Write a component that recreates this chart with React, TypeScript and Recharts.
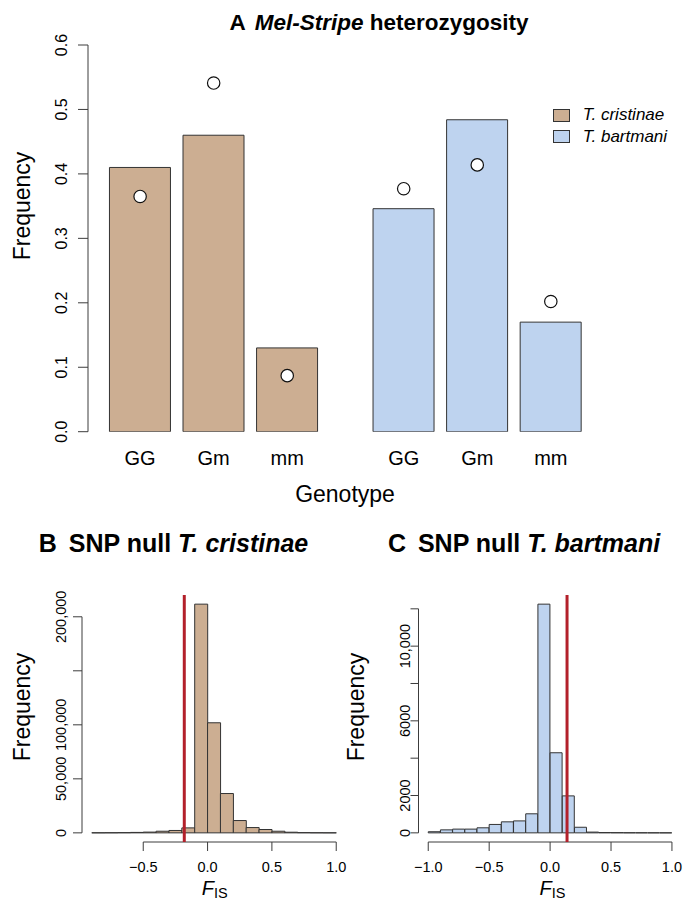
import React from 'react';
import {
  ComposedChart, Bar, Line, XAxis, YAxis, Legend, ReferenceLine,
} from 'recharts';

// ---- panel A: Mel-Stripe genotype frequencies ----
const genotypes = ['GG', 'Gm', 'mm'];
const cristinaeObs = [0.41, 0.46, 0.13];
const bartmaniObs = [0.346, 0.484, 0.17];
const cristinaeExp = [0.365, 0.541, 0.087];
const bartmaniExp = [0.377, 0.414, 0.202];
const freqTicks = [0, 0.1, 0.2, 0.3, 0.4, 0.5, 0.6];
const legendOrder = ['cristinae', 'bartmani'];

// ---- panels B/C: SNP null FIS histograms (bin width 0.1) ----
const cristinaeBinStart = -0.9;
const cristinaeCounts = [
  50, 100, 200, 400, 700, 1500, 2200, 4600, 211700, 101900,
  36400, 11400, 4900, 3100, 1500, 600, 200, 80, 30,
];
const cristinaeObsFis = -0.181;
const cristinaeYTicks = [0, 50000, 100000, 150000, 200000];
const cristinaeYLabels = ['0', '50,000', '100,000', '', '200,000'];
const cristinaeXTicks = [-0.5, 0, 0.5, 1];

const bartmaniBinStart = -1.0;
const bartmaniCounts = [
  60, 160, 200, 200, 270, 450, 590, 640, 1020, 12250,
  4290, 1980, 300, 40, 15, 10, 5, 3, 2, 1,
];
const bartmaniObsFis = 0.139;
const bartmaniYTicks = [0, 2000, 4000, 6000, 8000, 10000, 12000];
const bartmaniYLabels = ['0', '2000', '', '6000', '', '10,000', ''];
const bartmaniXTicks = [-1, -0.5, 0, 0.5, 1];

const BROWN = '#CCAE92';
const BLUE = '#BED3EF';
const EDGE = '#333333';
const AXIS = '#3c3c3c';
const RED = '#b3202a';
const FONT = "'Liberation Sans', Arial, Helvetica, sans-serif";

const W = 684;
const H = 903;

// rotated y tick label, reads bottom to top like base R
function RotTick(props: any) {
  const { x, y, payload, labels, ticks, fontSize } = props;
  const idx = ticks.indexOf(payload.value);
  const txt = labels ? labels[idx] : payload.value.toFixed(1);
  if (!txt) return null;
  return (
    <text x={x} y={y} transform={`rotate(-90 ${x} ${y})`} textAnchor="middle"
      fontSize={fontSize} fill="#000">
      {txt}
    </text>
  );
}

// horizontal x tick label, y is the baseline offset below the axis
function FlatTick(props: any) {
  const { x, y, payload, index, fontSize, format } = props;
  return (
    <text x={x} y={y} textAnchor="middle" fontSize={fontSize} fill="#000">
      {format(payload.value, index)}
    </text>
  );
}

function PanelA() {
  const plotLeft = 88, plotTop = 45, plotBottom = 431.7, height = 520;
  const unit = 61.3, xmin = -0.15, xmax = 9;
  const right = W - plotLeft - (xmax - xmin) * unit;
  const pos = (g: number, i: number) => 0.7 + i * 1.2 + g * 4.3;
  const rows = [
    ...genotypes.map((_, i) => ({ x: pos(0, i), cristinae: cristinaeObs[i], bartmani: null, expected: cristinaeExp[i] })),
    ...genotypes.map((_, i) => ({ x: pos(1, i), cristinae: null, bartmani: bartmaniObs[i], expected: bartmaniExp[i] })),
  ];
  const ticks = rows.map(r => r.x);
  return (
    <div style={{ position: 'absolute', left: 0, top: 0 }}>
      <ComposedChart width={W} height={height} data={rows}
        margin={{ top: plotTop, right, bottom: height - plotBottom - 40, left: 0 }}
        barCategoryGap="8.333%">
        <XAxis type="number" dataKey="x" domain={[xmin, xmax]} allowDataOverflow
          ticks={ticks} interval={0} height={40} axisLine={false} tickLine={false}
          tickSize={0} tickMargin={33.5}
          tick={(p: any) => <FlatTick {...p} fontSize={20} format={(_v: number, i: number) => genotypes[i % 3]} />} />
        <YAxis type="number" domain={[0, 0.6]} allowDataOverflow ticks={freqTicks}
          width={plotLeft} axisLine={{ stroke: AXIS }} tickLine={{ stroke: AXIS }}
          tickSize={10} tickMargin={11.3}
          tick={(p: any) => <RotTick {...p} ticks={freqTicks} fontSize={16} />} />
        <Legend layout="horizontal" verticalAlign="middle" align="center"
          wrapperStyle={{ left: 552.7, top: 104.2, width: 130 }}
          content={({ payload }: any) => {
            const items = legendOrder
              .map(k => (payload || []).find((p: any) => p.dataKey === k))
              .filter(Boolean);
            return (
              <div>
                {items.map((p: any) => (
                  <div key={p.value} style={{ display: 'flex', alignItems: 'center', height: 21.7 }}>
                    <span style={{ display: 'inline-block', width: 17, height: 13, background: p.color, border: `1px solid ${EDGE}`, boxSizing: 'border-box', marginRight: 13 }} />
                    <span style={{ fontStyle: 'italic', fontSize: 17, color: '#000' }}>{p.value}</span>
                  </div>
                ))}
              </div>
            );
          }} />
        <Bar dataKey="cristinae" name="T. cristinae" stackId="g" fill={BROWN}
          stroke={EDGE} strokeWidth={1} isAnimationActive={false} />
        <Bar dataKey="bartmani" name="T. bartmani" stackId="g" fill={BLUE}
          stroke={EDGE} strokeWidth={1} isAnimationActive={false} />
        <Line dataKey="expected" stroke="none" legendType="none" isAnimationActive={false}
          dot={{ r: 6.2, fill: '#fff', stroke: '#111', strokeWidth: 1.2 }} activeDot={false} />
      </ComposedChart>
    </div>
  );
}

interface HistProps {
  left: number; width: number; plotLeft: number; plotRight: number;
  counts: number[]; binStart: number; xTicks: number[];
  yTicks: number[]; yLabels: string[]; yTickSize: number; yTickMargin: number;
  fill: string; obs: number;
}

function Histogram(props: HistProps) {
  const { left, width, plotLeft, plotRight, counts, binStart, xTicks, yTicks, yLabels, yTickSize, yTickMargin, fill, obs } = props;
  const top = 520, height = 383, plotTop = 595, plotBottom = 842;
  const bw = 0.1;
  const binEnd = binStart + counts.length * bw;
  const xr = binEnd - binStart;
  const xmin = binStart - 0.04 * xr, xmax = binEnd + 0.04 * xr;
  const ymaxData = Math.max(...counts);
  const ymin = -0.04 * ymaxData, ymax = 1.04 * ymaxData;
  const data = counts.map((c, i) => ({ x: binStart + (i + 0.5) * bw, count: c }));
  const fmt = (v: number) => (v < 0 ? '\u2212' : '') + Math.abs(v).toFixed(1);
  return (
    <div style={{ position: 'absolute', left, top }}>
      <ComposedChart width={width} height={height} data={data}
        margin={{ top: plotTop - top, right: left + width - plotRight, bottom: top + height - plotBottom - 40, left: 0 }}
        barCategoryGap={0} barGap={0}>
        <XAxis type="number" dataKey="x" domain={[xmin, xmax]} allowDataOverflow
          ticks={xTicks} interval={0} height={40} axisLine={false}
          tickLine={{ stroke: AXIS }} tickSize={9} tickMargin={21}
          tick={(p: any) => <FlatTick {...p} fontSize={14.5} format={fmt} />} />
        <YAxis type="number" domain={[ymin, ymax]} allowDataOverflow ticks={yTicks}
          interval={0} width={plotLeft - left} axisLine={false} tickLine={{ stroke: AXIS }}
          tickSize={yTickSize} tickMargin={yTickMargin}
          tick={(p: any) => <RotTick {...p} ticks={yTicks} labels={yLabels} fontSize={14.5} />} />
        <Bar dataKey="count" fill={fill} stroke={EDGE} strokeWidth={1} isAnimationActive={false} />
        <ReferenceLine ifOverflow="visible" stroke={AXIS} strokeWidth={1}
          segment={[{ x: xmin, y: 0 }, { x: xmin, y: yTicks[yTicks.length - 1] }]} />
        <ReferenceLine ifOverflow="visible" stroke={AXIS} strokeWidth={1}
          segment={[{ x: xTicks[0], y: ymin }, { x: xTicks[xTicks.length - 1], y: ymin }]} />
        <ReferenceLine x={obs} stroke={RED} strokeWidth={3} />
      </ComposedChart>
    </div>
  );
}

export default function App() {
  return (
    <div style={{ position: 'absolute', left: 0, top: 0, width: W, height: H, background: '#fff', fontFamily: FONT, overflow: 'hidden' }}>
      <PanelA />
      <Histogram left={0} width={360} plotLeft={82} plotRight={346}
        counts={cristinaeCounts} binStart={cristinaeBinStart} xTicks={cristinaeXTicks}
        yTicks={cristinaeYTicks} yLabels={cristinaeYLabels} yTickSize={9} yTickMargin={7}
        fill={BROWN} obs={cristinaeObsFis} />
      <Histogram left={342} width={342} plotLeft={418.5} plotRight={681.7}
        counts={bartmaniCounts} binStart={bartmaniBinStart} xTicks={bartmaniXTicks}
        yTicks={bartmaniYTicks} yLabels={bartmaniYLabels} yTickSize={8} yTickMargin={0.5}
        fill={BLUE} obs={bartmaniObsFis} />
      <svg width={W} height={H} style={{ position: 'absolute', left: 0, top: 0, pointerEvents: 'none' }}
        fontFamily={FONT}>
        <text x={379} y={30} textAnchor="middle" fontSize={22.5} fontWeight="bold">
          A<tspan dx={9} fontStyle="italic">Mel-Stripe</tspan> heterozygosity
        </text>
        <text x={30} y={206} transform="rotate(-90 30 206)" textAnchor="middle" fontSize={23}>Frequency</text>
        <text x={345} y={502} textAnchor="middle" fontSize={23}>Genotype</text>

        <text x={173.5} y={552} textAnchor="middle" fontSize={25} fontWeight="bold">
          B<tspan dx={12}>SNP null </tspan><tspan fontStyle="italic">T. cristinae</tspan>
        </text>
        <text x={524} y={552} textAnchor="middle" fontSize={25} fontWeight="bold">
          C<tspan dx={12}>SNP null </tspan><tspan fontStyle="italic">T. bartmani</tspan>
        </text>
        <text x={30} y={707} transform="rotate(-90 30 707)" textAnchor="middle" fontSize={23}>Frequency</text>
        <text x={364} y={707} transform="rotate(-90 364 707)" textAnchor="middle" fontSize={23}>Frequency</text>
        <text x={214.8} y={895} textAnchor="middle" fontSize={20}>
          <tspan fontStyle="italic">F</tspan><tspan fontSize={14.5} dy={3}>IS</tspan>
        </text>
        <text x={552.5} y={895} textAnchor="middle" fontSize={20}>
          <tspan fontStyle="italic">F</tspan><tspan fontSize={14.5} dy={3}>IS</tspan>
        </text>
      </svg>
    </div>
  );
}
